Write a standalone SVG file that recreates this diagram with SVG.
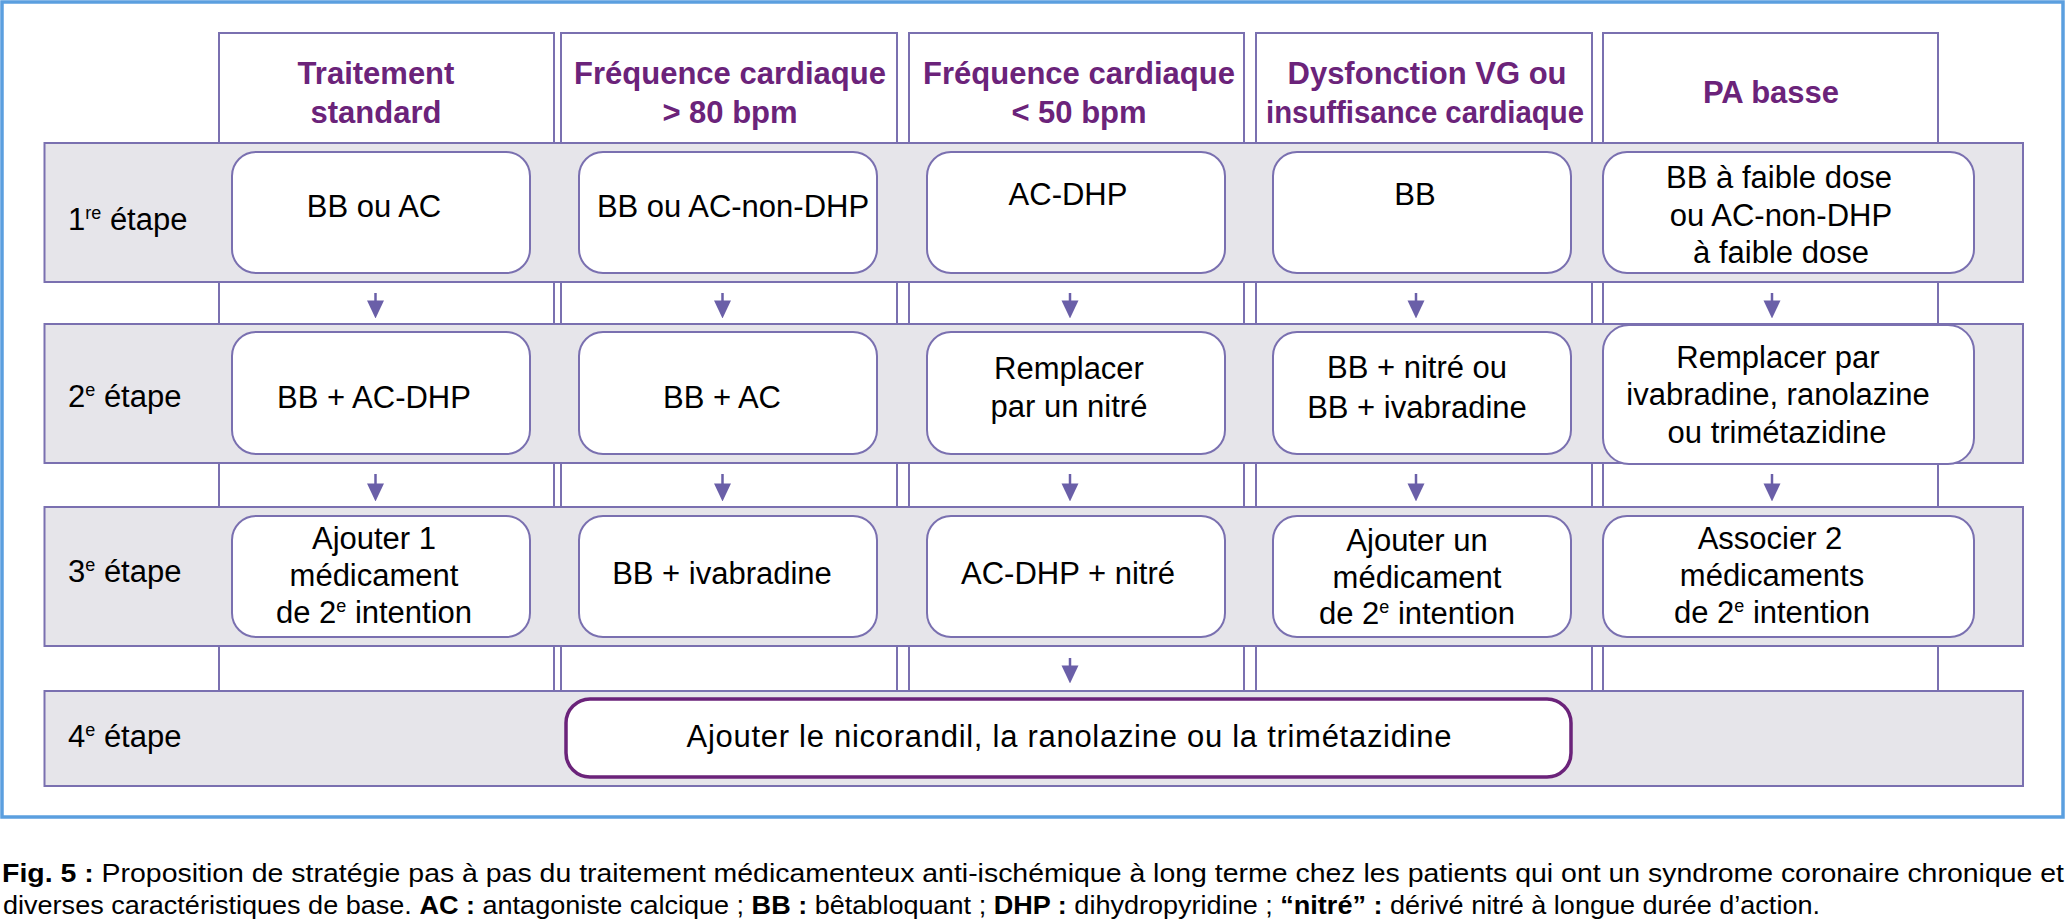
<svg xmlns="http://www.w3.org/2000/svg" width="2067" height="923" viewBox="0 0 2067 923">
<style>
.frame{fill:none;stroke:#5b9fdf;stroke-width:3.5}
.col{fill:#fff;stroke:#7a70b0;stroke-width:2}
.band{fill:#e6e5ea;stroke:#7a70b0;stroke-width:2}
.box{fill:#fff;stroke:#7a70b0;stroke-width:2}
.box4{fill:#fff;stroke:#6b237a;stroke-width:3.5}
.hd{font-family:"Liberation Sans",Arial,sans-serif;font-weight:bold;font-size:31px;fill:#6b237a;text-anchor:middle}
.t{font-family:"Liberation Sans",Arial,sans-serif;font-size:31px;fill:#000;text-anchor:middle}
.lbl{font-family:"Liberation Sans",Arial,sans-serif;font-size:31px;fill:#000}
.sup{font-size:18px}
.arr{stroke:#6a5fa8;stroke-width:2.5;fill:none;marker-end:url(#ah)}
.cap{font-family:"Liberation Sans",Arial,sans-serif;font-size:25.5px;fill:#000}
.b{font-weight:bold}
</style>
<defs>
<marker id="ah" markerUnits="userSpaceOnUse" markerWidth="18" markerHeight="18" viewBox="0 0 17 16" refX="0.5" refY="8" orient="auto">
<path d="M0,0 L17,8 L0,16 z" fill="#6a5fa8"/>
</marker>
</defs>
<rect class="frame" x="2" y="2" width="2061" height="815"/>
<g id="columns">
<rect class="col" x="219" y="33" width="335" height="658"/>
<rect class="col" x="561" y="33" width="336" height="658"/>
<rect class="col" x="909" y="33" width="335" height="658"/>
<rect class="col" x="1256" y="33" width="336" height="658"/>
<rect class="col" x="1603" y="33" width="335" height="658"/>
</g>
<g id="headers">
<g id="h1"><text class="hd" x="376" y="84">Traitement</text><text class="hd" x="376" y="123">standard</text></g>
<g id="h2"><text class="hd" x="730" y="84">Fréquence cardiaque</text><text class="hd" x="730" y="123">&gt; 80 bpm</text></g>
<g id="h3"><text class="hd" x="1079" y="84">Fréquence cardiaque</text><text class="hd" x="1079" y="123">&lt; 50 bpm</text></g>
<g id="h4"><text class="hd" x="1427" y="84">Dysfonction VG ou</text><text class="hd" x="1425" y="123" textLength="318" lengthAdjust="spacingAndGlyphs">insuffisance cardiaque</text></g>
<g id="h5"><text class="hd" x="1771" y="103">PA basse</text></g>
</g>
<g id="bands">
<rect class="band" x="44.5" y="143" width="1978.5" height="139"/>
<rect class="band" x="44.5" y="324" width="1978.5" height="139"/>
<rect class="band" x="44.5" y="507" width="1978.5" height="139"/>
<rect class="band" x="44.5" y="691" width="1978.5" height="95"/>
</g>
<g id="labels">
<text class="lbl" x="68" y="230">1<tspan class="sup" dy="-11">re</tspan><tspan dy="11"> étape</tspan></text>
<text class="lbl" x="68" y="407">2<tspan class="sup" dy="-11">e</tspan><tspan dy="11"> étape</tspan></text>
<text class="lbl" x="68" y="582">3<tspan class="sup" dy="-11">e</tspan><tspan dy="11"> étape</tspan></text>
<text class="lbl" x="68" y="747">4<tspan class="sup" dy="-11">e</tspan><tspan dy="11"> étape</tspan></text>
</g>
<g id="connectors">
<line class="arr" x1="375.5" y1="293" x2="375.5" y2="301"/>
<line class="arr" x1="722.5" y1="293" x2="722.5" y2="301"/>
<line class="arr" x1="1070" y1="293" x2="1070" y2="301"/>
<line class="arr" x1="1416" y1="293" x2="1416" y2="301"/>
<line class="arr" x1="1772" y1="293" x2="1772" y2="301"/>
<line class="arr" x1="375.5" y1="474" x2="375.5" y2="484"/>
<line class="arr" x1="722.5" y1="474" x2="722.5" y2="484"/>
<line class="arr" x1="1070" y1="474" x2="1070" y2="484"/>
<line class="arr" x1="1416" y1="474" x2="1416" y2="484"/>
<line class="arr" x1="1772" y1="474" x2="1772" y2="484"/>
<line class="arr" x1="1070" y1="658" x2="1070" y2="666"/>
</g>
<g id="r1c1"><rect class="box" x="232" y="152" width="298" height="121" rx="24"/><text class="t" x="374" y="217">BB ou AC</text></g>
<g id="r1c2"><rect class="box" x="579" y="152" width="298" height="121" rx="24"/><text class="t" x="733" y="217">BB ou AC-non-DHP</text></g>
<g id="r1c3"><rect class="box" x="927" y="152" width="298" height="121" rx="24"/><text class="t" x="1068" y="205">AC-DHP</text></g>
<g id="r1c4"><rect class="box" x="1273" y="152" width="298" height="121" rx="24"/><text class="t" x="1415" y="205">BB</text></g>
<g id="r1c5"><rect class="box" x="1603" y="152" width="371" height="121" rx="24"/><text class="t" x="1779" y="188">BB à faible dose</text><text class="t" x="1781" y="226">ou AC-non-DHP</text><text class="t" x="1781" y="263">à faible dose</text></g>
<g id="r2c1"><rect class="box" x="232" y="332" width="298" height="122" rx="24"/><text class="t" x="374" y="408">BB + AC-DHP</text></g>
<g id="r2c2"><rect class="box" x="579" y="332" width="298" height="122" rx="24"/><text class="t" x="722" y="408">BB + AC</text></g>
<g id="r2c3"><rect class="box" x="927" y="332" width="298" height="122" rx="24"/><text class="t" x="1069" y="379">Remplacer</text><text class="t" x="1069" y="417">par un nitré</text></g>
<g id="r2c4"><rect class="box" x="1273" y="332" width="298" height="122" rx="24"/><text class="t" x="1417" y="378">BB + nitré ou</text><text class="t" x="1417" y="418">BB + ivabradine</text></g>
<g id="r2c5"><rect class="box" x="1603" y="325" width="371" height="139" rx="26"/><text class="t" x="1778" y="368">Remplacer par</text><text class="t" x="1778" y="405">ivabradine, ranolazine</text><text class="t" x="1777" y="443">ou trimétazidine</text></g>
<g id="r3c1"><rect class="box" x="232" y="516" width="298" height="121" rx="24"/><text class="t" x="374" y="549">Ajouter 1</text><text class="t" x="374" y="586">médicament</text><text class="t" x="374" y="623">de 2<tspan class="sup" dy="-11">e</tspan><tspan dy="11"> intention</tspan></text></g>
<g id="r3c2"><rect class="box" x="579" y="516" width="298" height="121" rx="24"/><text class="t" x="722" y="584">BB + ivabradine</text></g>
<g id="r3c3"><rect class="box" x="927" y="516" width="298" height="121" rx="24"/><text class="t" x="1068" y="584">AC-DHP + nitré</text></g>
<g id="r3c4"><rect class="box" x="1273" y="516" width="298" height="121" rx="24"/><text class="t" x="1417" y="551">Ajouter un</text><text class="t" x="1417" y="588">médicament</text><text class="t" x="1417" y="624">de 2<tspan class="sup" dy="-11">e</tspan><tspan dy="11"> intention</tspan></text></g>
<g id="r3c5"><rect class="box" x="1603" y="516" width="371" height="121" rx="24"/><text class="t" x="1770" y="549">Associer 2</text><text class="t" x="1772" y="586">médicaments</text><text class="t" x="1772" y="623">de 2<tspan class="sup" dy="-11">e</tspan><tspan dy="11"> intention</tspan></text></g>
<g id="r4"><rect class="box4" x="566" y="699" width="1005" height="78" rx="24"/><text class="t" x="1069" y="747" textLength="765" lengthAdjust="spacing">Ajouter le nicorandil, la ranolazine ou la trimétazidine</text></g>
<g id="caption">
<text class="cap" x="2" y="882" textLength="2062" lengthAdjust="spacingAndGlyphs"><tspan class="b">Fig. 5 :</tspan> Proposition de stratégie pas à pas du traitement médicamenteux anti-ischémique à long terme chez les patients qui ont un syndrome coronaire chronique et</text>
<text class="cap" x="3" y="914" textLength="1817" lengthAdjust="spacingAndGlyphs">diverses caractéristiques de base. <tspan class="b">AC :</tspan> antagoniste calcique ; <tspan class="b">BB :</tspan> bêtabloquant ; <tspan class="b">DHP :</tspan> dihydropyridine ; <tspan class="b">“nitré” :</tspan> dérivé nitré à longue durée d’action.</text>
</g>
</svg>
